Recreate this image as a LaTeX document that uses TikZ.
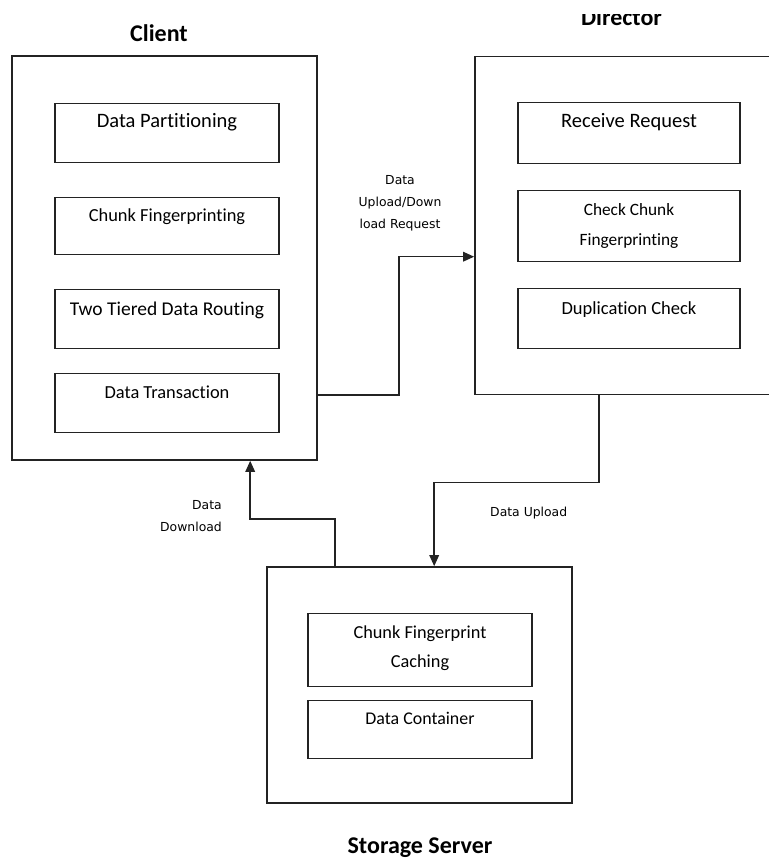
\documentclass[tikz,border=0pt]{standalone}
\usepackage{fontspec}
\setmainfont[Ligatures=NoCommon]{Carlito}
\newfontfamily\labelfont{DejaVu Sans}
\usetikzlibrary{arrows, arrows.meta, positioning}
\definecolor{boxgray}{RGB}{35, 35, 35}
\tikzstyle{arrow} = [line width=1.5pt,->,>={Triangle[length=11pt,width=9.5pt]},boxgray]
\tikzstyle{outerbox} = [draw=boxgray, line width=1.6pt, inner sep=0pt]
\tikzstyle{innerbox} = [draw=boxgray, line width=1.4pt, inner sep=0pt, anchor=north, align=center, minimum width=224pt]
\tikzstyle{title} = [font=\bfseries\fontsize{24}{28}\selectfont, inner sep=0pt, anchor=base]
\tikzstyle{flowlabel} = [font=\labelfont\fontsize{12.4}{22}\selectfont, inner sep=0pt, align=center]

\begin{document}
\begin{tikzpicture}[x=1pt, y=-1pt]
\useasboundingbox (0,0) rectangle (768,858);

% Outer boxes
\node[outerbox, minimum width=305pt, minimum height=404pt] (client) at (164.5,258) {};
\node[outerbox, minimum width=300pt, minimum height=338pt] (director) at (625,225.5) {};
\node[outerbox, minimum width=305pt, minimum height=236pt] (storage) at (419.5,685) {};

% Titles
\node[title] (clienttitle) at (159,42) {Client};
\begin{scope}
\clip (470,15) rectangle (768,45);
\node[title] (directortitle) at (621.5,26) {Director};
\end{scope}
\node[title] (storagetitle) at (420,853) {Storage Server};

% Client steps
\foreach \name/\top/\tht/\tdp/\fs/\txt in {dpart/103/24/35/20.5/Data Partitioning, cfp/197/24/33/18.4/Chunk Fingerprinting, route/289/26/33/19.5/Two Tiered Data Routing, trans/373/25/34/18.4/Data Transaction}
    \node[innerbox, text height=\tht pt, text depth=\tdp pt, font=\fontsize{\fs}{29.5}\selectfont] (\name) at (167,\top) {\txt};

% Director steps
\foreach \name/\top/\tht/\tdp/\fs/\txt in {recv/102/25/36/20.5/Receive Request, check/190/54.5/16.5/17.3/Check Chunk\\Fingerprinting, dup/288/26/34/18.5/Duplication Check}
    \node[innerbox, minimum width=222pt, text height=\tht pt, text depth=\tdp pt, font=\fontsize{\fs}{29.5}\selectfont] (\name) at (629,\top) {\txt};

% Storage server steps
\foreach \name/\top/\tht/\tdp/\fs/\txt in {cache/613/54/19/18.3/Chunk Fingerprint\\Caching, cont/700/24/34/17.9/Data Container}
    \node[innerbox, text height=\tht pt, text depth=\tdp pt, font=\fontsize{\fs}{29.5}\selectfont] (\name) at (420,\top) {\txt};

% Flows between the parts
\draw[arrow] ([yshift=66pt]client.south east) -- ++(81,0) |- ([yshift=-201pt]director.north west);
\draw[arrow] ([xshift=125pt]director.south west) -- ++(0,87) -| ([xshift=168pt]storage.north west);
\draw[arrow] ([xshift=69pt]storage.north west) -- ++(0,-47) -| ([xshift=239pt]client.south west);

% Flow labels
\node[flowlabel, anchor=north] (reqlabel) at (400,175) {Data\\Upload/Down\\load Request};
\node[flowlabel, anchor=north east, align=right] (downlabel) at (222,500.5) {Data\\Download};
\node[flowlabel, anchor=north west] (uplabel) at (490,506.5) {Data Upload};
\end{tikzpicture}
\end{document}
